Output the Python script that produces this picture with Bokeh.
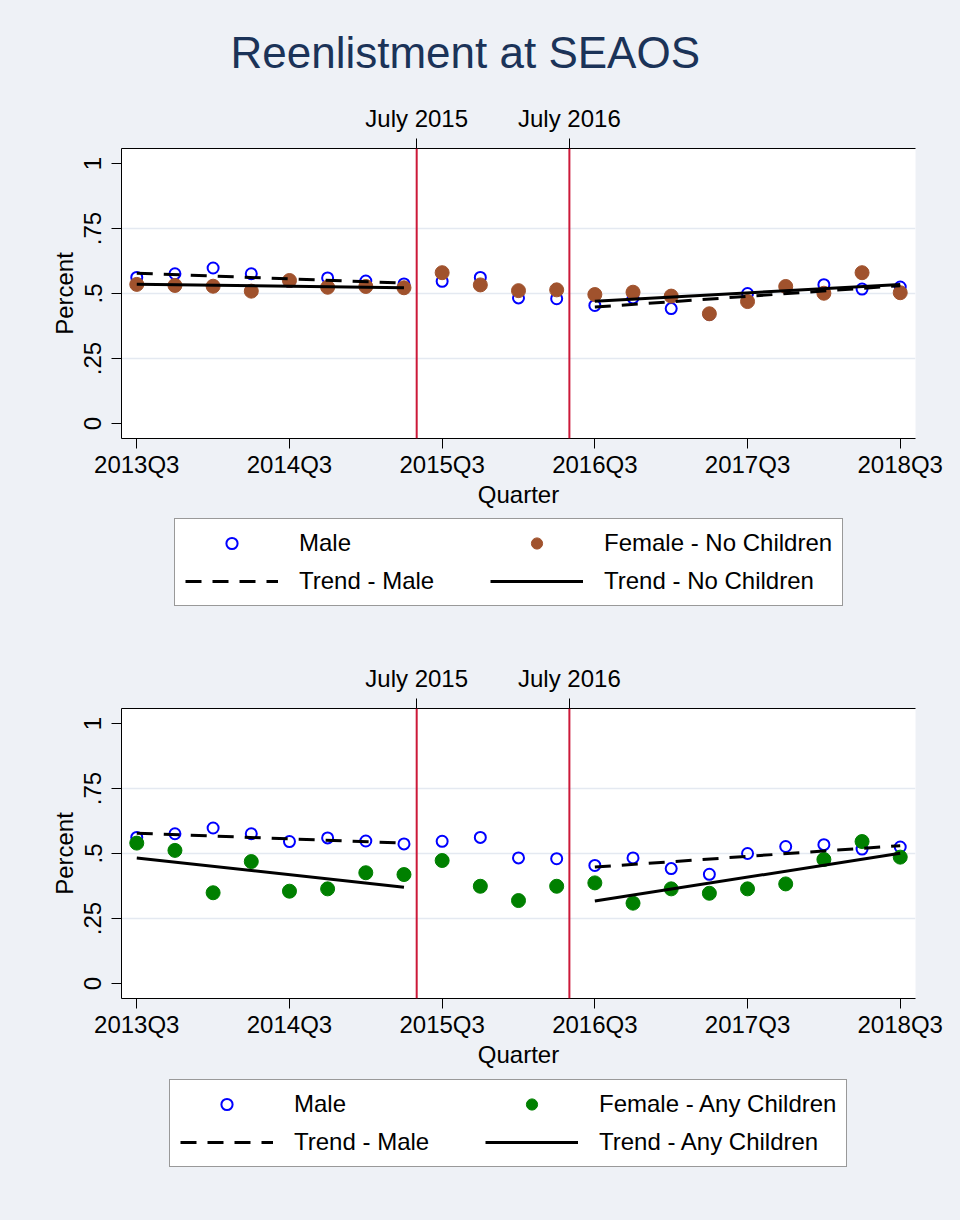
from bokeh.plotting import figure
from bokeh.models import (Range1d, LinearAxis, FixedTicker, Span, Legend,
                          LegendItem, ColumnDataSource)
from bokeh.layouts import column
from bokeh.embed import file_html
from bokeh.resources import INLINE

# ---------------- data ----------------
quarters = list(range(21))  # 0 = 2013Q3 ... 20 = 2018Q3
quarter_ticks = [0, 4, 8, 12, 16, 20]
quarter_labels = ["2013Q3", "2014Q3", "2015Q3", "2016Q3", "2017Q3", "2018Q3"]
event_x = [7.333, 11.333]
event_labels = ["July 2015", "July 2016"]
y_ticks = [0, 0.25, 0.5, 0.75, 1]
y_labels = ["0", ".25", ".5", ".75", "1"]

male = [0.562, 0.576, 0.598, 0.576, 0.546, 0.560, 0.548, 0.537, 0.547, 0.562,
        0.483, 0.480, 0.454, 0.483, 0.442, 0.420, 0.500, 0.527, 0.534, 0.517,
        0.525]
female_no_children = [0.535, 0.531, 0.528, 0.509, 0.550, 0.524, 0.527, 0.522,
                      0.580, 0.533, 0.511, 0.514, 0.496, 0.505, 0.490, 0.422,
                      0.469, 0.527, 0.501, 0.580, 0.503]
female_any_children = [0.540, 0.512, 0.349, 0.469, 0.355, 0.364, 0.426, 0.419,
                       0.473, 0.374, 0.319, 0.374, 0.387, 0.309, 0.364, 0.347,
                       0.364, 0.383, 0.477, 0.546, 0.486]

trend_x = [[0, 7], [12, 20]]
trend_male = [[0.578, 0.540], [0.448, 0.530]]
trend_no_children = [[0.536, 0.522], [0.470, 0.535]]
trend_any_children = [[0.483, 0.370], [0.317, 0.501]]

# ---------------- style ----------------
FONT = "Liberation Sans"
BG = "#eef1f6"
RED = "#cc1939"
GRID = "#e4e9f1"


def style_axis(ax):
    ax.axis_line_color = "black"
    ax.axis_line_width = 1
    ax.major_tick_out = 10
    ax.major_tick_in = 0
    ax.major_tick_line_color = "black"
    ax.minor_tick_line_color = None
    ax.major_label_text_font = FONT
    ax.major_label_text_font_size = "24px"
    ax.major_label_text_color = "black"
    ax.axis_label_text_font = FONT
    ax.axis_label_text_font_size = "24px"
    ax.axis_label_text_font_style = "normal"
    ax.axis_label_text_color = "black"


def add_series(p, female_vals, female_trend, fcolor):
    r_m = p.scatter(x="x", y="y",
                    source=ColumnDataSource(dict(x=quarters, y=male)),
                    marker="circle", size=11, fill_color=None,
                    line_color="blue", line_width=2)
    r_f = p.scatter(x="x", y="y",
                    source=ColumnDataSource(dict(x=quarters, y=female_vals)),
                    marker="circle", size=14, fill_color=fcolor,
                    line_color=fcolor, line_width=1)
    r_tm = p.multi_line(xs=trend_x, ys=trend_male, line_color="black",
                        line_width=3, line_dash="16 11")
    r_tf = p.multi_line(xs=trend_x, ys=female_trend, line_color="black",
                        line_width=3)
    return r_m, r_f, r_tm, r_tf


def make_panel(female_vals, female_trend, fcolor, title, top_border):
    p = figure(frame_width=794, frame_height=290, output_backend="svg",
               toolbar_location=None, title=title,
               x_range=Range1d(-0.4, 20.4), y_range=Range1d(-0.0577, 1.0577),
               min_border_left=121, min_border_right=45,
               min_border_top=top_border, min_border_bottom=72)
    p.background_fill_color = "white"
    p.border_fill_color = BG
    p.outline_line_color = None

    if title:
        p.title.align = "left"
        p.title.offset = 109
        p.title.text_font = FONT
        p.title.text_font_size = "44px"
        p.title.text_font_style = "normal"
        p.title.text_color = "#1b3358"
        p.title.standoff = 49

    xa = p.xaxis[0]
    xa.ticker = FixedTicker(ticks=quarter_ticks, minor_ticks=[])
    xa.major_label_overrides = dict(zip(quarter_ticks, quarter_labels))
    xa.axis_label = "Quarter"
    style_axis(xa)
    xa.major_label_standoff = 2
    xa.axis_label_standoff = 0

    ya = p.yaxis[0]
    ya.ticker = FixedTicker(ticks=y_ticks, minor_ticks=[])
    ya.major_label_overrides = dict(zip(y_ticks, y_labels))
    ya.axis_label = "Percent"
    style_axis(ya)
    ya.major_label_orientation = "vertical"
    ya.major_label_standoff = 10
    ya.axis_label_standoff = 4

    top = LinearAxis(ticker=FixedTicker(ticks=event_x, minor_ticks=[]),
                     major_label_overrides=dict(zip(event_x, event_labels)))
    style_axis(top)
    top.major_label_standoff = 7
    p.add_layout(top, "above")

    p.xgrid.visible = False
    p.ygrid.ticker = FixedTicker(ticks=y_ticks[1:-1])
    p.ygrid.grid_line_color = GRID
    p.ygrid.grid_line_width = 1.5

    for ex in event_x:
        p.add_layout(Span(location=ex, dimension="height", line_color=RED,
                          line_width=2))

    add_series(p, female_vals, female_trend, fcolor)
    return p


def make_legend(female_vals, female_trend, fcolor, female_label, trend_label,
                height, box_left, box_bottom_gap):
    # legend-only strip; the series copies lie outside its ranges
    lf = figure(frame_width=794, height=height, output_backend="svg",
                toolbar_location=None, x_axis_location=None,
                y_axis_location=None, min_border_left=121,
                min_border_right=45, min_border_top=0, min_border_bottom=0,
                x_range=Range1d(-3, -2), y_range=Range1d(0, 1))
    lf.background_fill_color = BG
    lf.border_fill_color = BG
    lf.outline_line_color = None
    lf.grid.visible = False
    r_m, r_f, r_tm, r_tf = add_series(lf, female_vals, female_trend, fcolor)
    legend = Legend(items=[LegendItem(label="Male", renderers=[r_m]),
                           LegendItem(label=female_label, renderers=[r_f]),
                           LegendItem(label="Trend - Male", renderers=[r_tm]),
                           LegendItem(label=trend_label, renderers=[r_tf])],
                    orientation="horizontal", ncols=2,
                    location=(box_left, box_bottom_gap),
                    glyph_width=93, glyph_height=28, label_standoff=21,
                    label_width=181, spacing=10, padding=10, margin=0,
                    label_text_font=FONT, label_text_font_size="24px",
                    label_text_color="black",
                    border_line_color="#333333", border_line_width=1,
                    background_fill_color="white", background_fill_alpha=1)
    lf.add_layout(legend, "center")
    return lf


p1 = make_panel(female_no_children, trend_no_children, "#a0522d",
                "Reenlistment at SEAOS", 148)
l1 = make_legend(female_no_children, trend_no_children, "#a0522d",
                 "Female - No Children", "Trend - No Children", 110, 53, 14)
p2 = make_panel(female_any_children, trend_any_children, "#008000",
                None, 88)
l2 = make_legend(female_any_children, trend_any_children, "#008000",
                 "Female - Any Children", "Trend - Any Children", 150, 48, 53)

layout = column(p1, l1, p2, l2, styles={"background-color": BG})
open("out.html", "w").write(file_html(layout, INLINE))
